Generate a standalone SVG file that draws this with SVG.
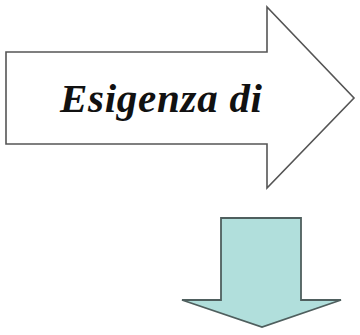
<svg xmlns="http://www.w3.org/2000/svg" width="360" height="335" viewBox="0 0 360 335">
  <style>
    .outline { fill: #ffffff; stroke: #555555; stroke-width: 1.6; stroke-linejoin: miter; }
    .down { fill: #b1dfdc; stroke: #4f5f5e; stroke-width: 1.8; stroke-linejoin: miter; }
    .label { font-family: 'Liberation Serif', 'DejaVu Serif', serif; font-style: italic; font-weight: 700; font-size: 41px; fill: #111111; }
  </style>
  <!-- big right-pointing arrow with label -->
  <g id="arrow-right">
    <polygon class="outline" points="6,52 267,52 267,7 354,98 267,188 267,144 6,144"/>
    <text class="label" x="60" y="112" textLength="202" lengthAdjust="spacing">Esigenza di</text>
  </g>
  <!-- downward arrow -->
  <g id="arrow-down">
    <polygon class="down" points="221,218 301,218 301,300 341,300 262,327 182,300 221,300"/>
  </g>
  <g id="connectors"></g>
</svg>
